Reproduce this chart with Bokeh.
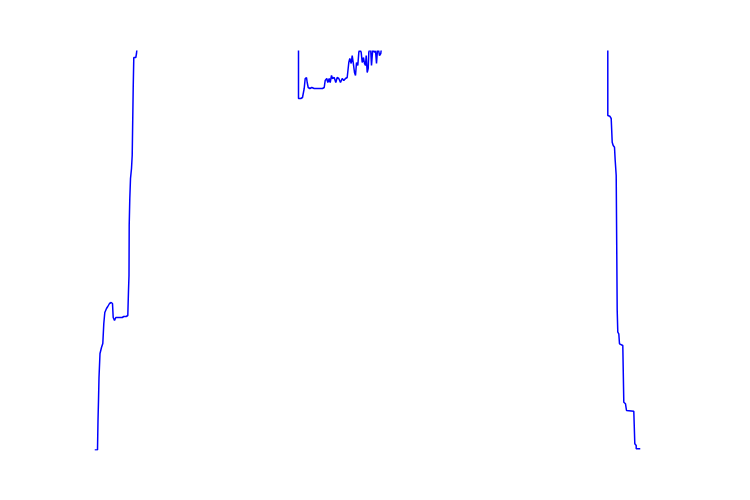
from bokeh.plotting import figure
from bokeh.models import ColumnDataSource, Range1d
from bokeh.embed import file_html
from bokeh.resources import INLINE

# values (the series runs off the top of the frame twice)
t = [0, 3, 3.5, 4, 4.5, 5.5, 7, 8.3, 9.3, 10.3, 12, 13.3, 15, 16.7, 18, 18.7,
     20, 21.3, 27.7, 29.3, 31.7, 33.3, 34, 34.5, 34.7, 35.3, 36, 37, 37.7,
     38.7, 39.3, 41.3, 42, 42.3, 43, 60, 110, 160, 203.5,
     204, 204, 206.3, 208, 209.7, 210.7, 212, 212.7, 213.7, 215.3, 217.3,
     219.7, 228, 229.7, 230.7, 232.3, 233.3, 234.7, 235.7, 237, 238, 239.7,
     241.3, 242.7, 244.3, 246, 247.7, 249.3, 251, 252.7, 254.3, 255.3, 256.7,
     257.7, 258.7, 260, 261, 262, 263.3, 264.3, 265.3, 266.7, 267.7, 269,
     270, 271, 271.7, 272.7, 273.7, 274.3, 276, 277, 278.3, 280, 281, 282,
     283.3, 285, 286.3, 287.7, 300, 400, 480, 512, 513.3,
     513.3, 513.3, 515.3, 516.7, 517.7, 518.7, 520, 520.7, 521.7, 522.7,
     523.3, 524.3, 525, 528.3, 529.3, 531, 532, 539.3, 540.3, 541.7, 541.7,
     546]
level = [0.5, 0.5, 30, 50, 73, 97, 103, 107, 127, 138, 142, 144, 147, 148,
         147, 133, 130, 133, 133, 134, 134, 135, 160, 175, 225, 252, 272, 282,
         295, 362, 393, 393, 397, 400, 415, 440, 460, 445, 430,
         410, 352, 352, 353, 362, 372, 373, 368, 363, 362, 363, 362, 362, 363,
         370, 372, 368, 372, 368, 375, 372, 373, 368, 373, 372, 368, 372, 370,
         372, 373, 388, 392, 387, 395, 388, 378, 375, 388, 385, 398, 402, 398,
         388, 393, 387, 385, 395, 378, 382, 398, 405, 385, 402, 398, 400, 387,
         405, 395, 397, 410, 430, 460, 450, 430, 410,
         400, 335, 334.3, 332, 308.3, 305, 303.3, 290, 275, 140, 118.3, 116.7,
         106.7, 105, 48.3, 46.7, 40, 39.3, 6.7, 5, 1.7, 1.7]

source = ColumnDataSource(data=dict(t=t, level=level))

p = figure(width=734, height=484, output_backend="svg", toolbar_location=None,
           x_range=Range1d(0, 546), y_range=Range1d(0, 400),
           x_axis_type=None, y_axis_type=None,
           min_border_left=94, min_border_right=94,
           min_border_top=50, min_border_bottom=34)
p.grid.visible = False
p.outline_line_color = None
p.background_fill_color = "white"
p.border_fill_color = "white"

p.line(x='t', y='level', source=source, color='blue', line_width=1.5)

open("out.html", "w").write(file_html(p, INLINE))
